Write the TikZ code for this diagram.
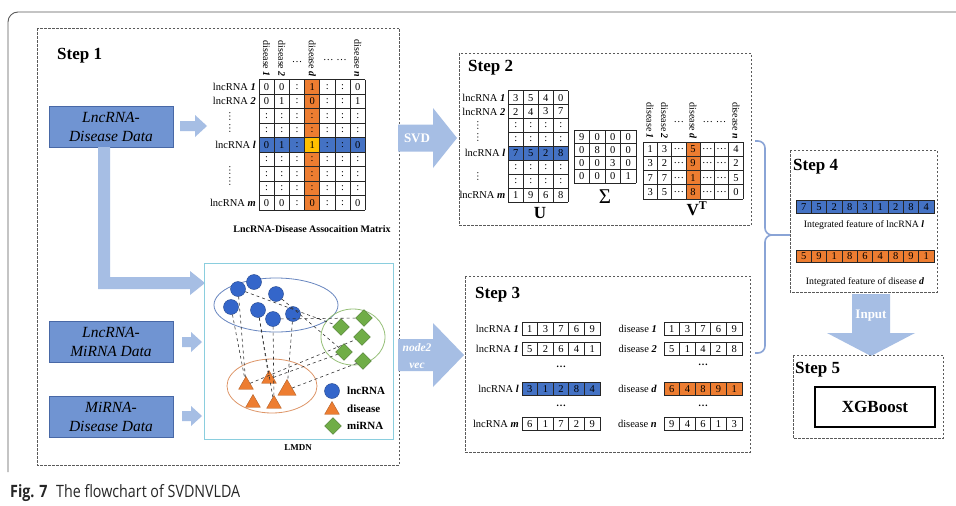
\documentclass[tikz,border=0pt]{standalone}
\usepackage{fontspec}
\setmainfont{Liberation Serif}
\newfontfamily\captionfont[FakeStretch=0.84]{Open Sans}
\usetikzlibrary{shapes.geometric}

\definecolor{databox}{RGB}{112,148,210}
\definecolor{databorder}{RGB}{72,104,166}
\definecolor{flowarrow}{RGB}{166,190,228}
\definecolor{cellblue}{RGB}{68,114,196}
\definecolor{cellorange}{RGB}{237,125,49}
\definecolor{cellyellow}{RGB}{255,192,0}
\definecolor{lmdnframe}{RGB}{138,206,222}
\definecolor{lncring}{RGB}{104,134,192}
\definecolor{miring}{RGB}{150,192,120}
\definecolor{disring}{RGB}{222,150,104}
\definecolor{lncdot}{RGB}{52,102,202}
\definecolor{midot}{RGB}{112,173,71}
\definecolor{disdot}{RGB}{237,125,49}
\definecolor{bracecol}{RGB}{138,164,214}
\definecolor{framegrey}{RGB}{90,90,90}

\newcommand{\fs}[1]{\fontsize{#1}{#1}\selectfont}
\newcommand{\idx}[1]{\textbf{\textit{#1}}}

% grid of cols x rows unit cells in the current scope
\newcommand{\cellgrid}[2]{%
  \foreach \i in {0,...,#1} \draw[gridline] (\i,0) -- (\i,#2);
  \foreach \j in {0,...,#2} \draw[gridline] (0,\j) -- (#1,\j);}
% entries, row by row
\newcommand{\cellvalues}[1]{%
  \foreach \r/\vals in {#1} {
    \foreach \v [count=\c] in \vals
      \node[celltext] at (\c-0.5,\r-0.5) {\v};
  }}
% one strip of boxed numbers: left x, centre y, cell width, fill, values
\newcommand{\vecstrip}[5]{%
  \foreach \v [count=\c] in {#5}
    \node[vcell, fill=#4, minimum width=#3pt] at ({#1+#3*(\c-0.5)}, #2) {\v};}
% horizontal block arrow: x start, x head, x tip, y centre, shaft half height, head half height
\newcommand{\blockarrow}[6]{%
  \fill[flowarrow] (#1,#4-#5) -- (#2,#4-#5) -- (#2,#4-#6) -- (#3,#4)
    -- (#2,#4+#6) -- (#2,#4+#5) -- (#1,#4+#5) -- cycle;}

\tikzset{
  stepframe/.style={draw=framegrey, line width=0.8pt, dash pattern=on 2.5pt off 1.5pt},
  datanode/.style={draw=databorder, line width=0.8pt, fill=databox, minimum width=124pt,
    minimum height=41pt, align=center, font=\fontsize{15.5}{19}\selectfont\itshape, inner sep=0pt},
  gridline/.style={draw=black!85, line width=0.8pt},
  celltext/.style={font=\fs{10.5}, inner sep=0pt},
  vcell/.style={draw=black!85, line width=0.7pt, minimum height=12.5pt, inner sep=0pt,
    outer sep=0pt, font=\fs{10.5}},
  steptitle/.style={anchor=west, font=\fs{17}\bfseries, inner sep=0pt},
  rowlabel/.style={anchor=east, font=\fs{10.5}, inner sep=0pt},
  colhead/.style={rotate=-90, anchor=east, font=\fs{10}, inner sep=0pt},
  vdots/.style={rotate=90, font=\fs{10}, inner sep=0pt},
  lncnode/.style={circle, draw=lncdot!70!black, fill=lncdot, minimum size=15pt, inner sep=0pt},
  minode/.style={diamond, draw=midot!70!black, fill=midot, minimum width=17pt,
    minimum height=17pt, inner sep=0pt},
  disnode/.style={regular polygon, regular polygon sides=3, draw=disdot!75!black,
    fill=disdot, minimum size=17pt, inner sep=0pt},
  netlink/.style={dashed, black!80, line width=0.6pt},
  legendtext/.style={anchor=west, font=\fs{11}\bfseries, inner sep=0pt},
  featuretext/.style={font=\fs{9.8}, inner sep=0pt},
}

\begin{document}
\begin{tikzpicture}[x=1pt,y=-1pt]
\useasboundingbox (0,0) rectangle (956,506);
\fill[white] (0,0) rectangle (956,506);

% outer frame of the figure
\draw[framegrey, line width=0.9pt, rounded corners=10pt] (8,472) -- (8,12) -- (960,12);

%% ---------------- Step 1 ----------------
\draw[stepframe] (37,28) rectangle (399,465);
\node[steptitle] (s1) at (57,56) {Step 1};
\node[datanode] (ld) at (111,126.5) {LncRNA-\\Disease Data};
\node[datanode] (lm) at (111,341.5) {LncRNA-\\MiRNA Data};
\node[datanode] (md) at (111,417) {MiRNA-\\Disease Data};

\blockarrow{180}{195}{207}{126}{5}{11}
\blockarrow{182}{191}{202}{342}{5}{10}
\blockarrow{182}{191}{202}{416}{5}{10}
\fill[flowarrow] (98,147) -- (110,147) -- (110,277) -- (190,277) -- (190,271) -- (205,283)
  -- (190,295) -- (190,289) -- (98,289) -- cycle;

% association matrix
\begin{scope}[shift={(259,79.5)}, x=15.2pt, y=-14.5pt]
  \fill[cellorange] (3,0) rectangle (4,9);
  \fill[cellblue] (0,4) rectangle (7,5);
  \fill[cellyellow] (3,4) rectangle (4,5);
  \cellgrid{7}{9}
  \cellvalues{1/{0,0,:,1,:,:,0}, 2/{0,1,:,0,:,:,1}, 3/{:,:,:,:,:,:,:}, 4/{:,:,:,:,:,:,:},
    5/{0,1,:,1,:,:,0}, 6/{:,:,:,:,:,:,:}, 7/{:,:,:,:,:,:,:}, 8/{:,:,:,:,:,:,:}, 9/{0,0,:,0,:,:,0}}
  \node[colhead] at (0.5,-0.17) {disease \idx{1}};
  \node[colhead] at (1.5,-0.17) {disease \idx{2}};
  \node[celltext] at (2.5,-1.23) {\dots};
  \node[colhead] at (3.5,-0.17) {disease \idx{d}};
  \node[celltext] at (5,-1.34) {\dots\ \dots};
  \node[colhead] at (6.5,-0.17) {disease \idx{n}};
\end{scope}
\node[rowlabel] at (256,86.75) {lncRNA \idx{1}};
\node[rowlabel] at (256,101.25) {lncRNA \idx{2}};
\node[vdots] at (230,122.5) {\dots\,\dots};
\node[rowlabel] at (256,145.25) {lncRNA \idx{l}};
\node[vdots] at (230,176) {\dots\,\dots};
\node[rowlabel] at (256,203.25) {lncRNA \idx{m}};
\node[font=\fs{10}\bfseries] (matcap) at (312,229) {LncRNA-Disease Assocaition Matrix};

% LMDN network
\draw[lmdnframe, line width=1pt] (204,263) rectangle (393,439);
\draw[lncring, line width=0.8pt] (276,305) ellipse [x radius=62pt, y radius=27pt];
\draw[miring, line width=0.8pt] (353,337) ellipse [x radius=32pt, y radius=28pt];
\draw[disring, line width=0.8pt] (272,386) ellipse [x radius=45pt, y radius=27pt];

\node[lncnode] (c1) at (238,289) {};
\node[lncnode] (c2) at (254,282) {};
\node[lncnode] (c3) at (276,294) {};
\node[lncnode] (c4) at (231,307) {};
\node[lncnode] (c5) at (258,310) {};
\node[lncnode] (c6) at (273,319) {};
\node[lncnode] (c7) at (293,314) {};
\node[minode] (d1) at (341,327) {};
\node[minode] (d2) at (364,318) {};
\node[minode] (d3) at (362,337) {};
\node[minode] (d4) at (344,352) {};
\node[minode] (d5) at (363,361) {};
\node[disnode] (t1) at (246,385) {};
\node[disnode] (t2) at (269,379) {};
\node[disnode, minimum size=21pt] (t3) at (287,390) {};
\node[disnode] (t4) at (253,403) {};
\node[disnode] (t5) at (274,404) {};

\foreach \a/\b in {c1/t1, c4/t1, c5/t5, c5/t2, c6/t5, c7/t3, c1/d1, c3/d4, c6/d2, t1/d3, t3/d5, t2/d4}
  \draw[netlink] (\a) -- (\b);

\node[lncnode] (kl) at (332,391) {};
\node[legendtext] at (347,391) {lncRNA};
\node[disnode] (kd) at (332,410) {};
\node[legendtext] at (347,409) {disease};
\node[minode] (km) at (333,426) {};
\node[legendtext] at (347,426) {miRNA};
\node[font=\fs{9}\bfseries] (lmdn) at (298,448) {LMDN};

% SVD and node2vec arrows
\blockarrow{398}{433}{457}{138}{13.5}{30}
\node[font=\fs{13}\bfseries, text=white] (svd) at (417,138) {SVD};
\blockarrow{398}{433}{464}{355}{16}{32}
\node[font=\fontsize{11.5}{17}\selectfont\bfseries\itshape, text=white, align=center] (n2v) at (417,356) {node2\\vec};

%% ---------------- Step 2 ----------------
\draw[stepframe] (459,53) rectangle (751,225);
\node[steptitle] (s2) at (468,68) {Step 2};

\begin{scope}[shift={(508.3,90.7)}, x=15pt, y=-13.9pt]
  \fill[cellblue] (0,4) rectangle (4,5);
  \cellgrid{4}{8}
  \cellvalues{1/{3,5,4,0}, 2/{2,4,3,7}, 3/{:,:,:,:}, 4/{:,:,:,:}, 5/{7,5,2,8},
    6/{:,:,:,:}, 7/{:,:,:,:}, 8/{1,9,6,8}}
\end{scope}
\node[rowlabel] at (505.5,97.65) {lncRNA \idx{1}};
\node[rowlabel] at (505.5,111.55) {lncRNA \idx{2}};
\node[vdots] at (478,131.7) {\dots\,\dots};
\node[rowlabel] at (505.5,153.25) {lncRNA \idx{l}};
\node[vdots] at (478,176.7) {\dots};
\node[rowlabel] at (505.5,194.95) {lncRNA \idx{m}};
\node[font=\fs{17}\bfseries] (U) at (540,213) {U};

\begin{scope}[shift={(574,130)}, x=15.5pt, y=-13.25pt]
  \cellgrid{4}{4}
  \cellvalues{1/{9,0,0,0}, 2/{0,8,0,0}, 3/{0,0,3,0}, 4/{0,0,0,1}}
\end{scope}
\node[font=\fs{21}, inner sep=0pt] (sigma) at (605,197) {Σ};

\begin{scope}[shift={(643,142)}, x=14.3pt, y=-14.25pt]
  \fill[cellorange] (3,0) rectangle (4,4);
  \cellgrid{7}{4}
  \cellvalues{1/{1,3,\dots,5,\dots,\dots,4}, 2/{3,2,\dots,9,\dots,\dots,2},
    3/{7,7,\dots,1,\dots,\dots,5}, 4/{3,5,\dots,8,\dots,\dots,0}}
  \node[colhead] at (0.5,-0.2) {disease \idx{1}};
  \node[colhead] at (1.5,-0.2) {disease \idx{2}};
  \node[celltext] at (2.5,-1.4) {\dots};
  \node[colhead] at (3.5,-0.2) {disease \idx{d}};
  \node[celltext] at (5,-1.4) {\dots\ \dots};
  \node[colhead] at (6.5,-0.2) {disease \idx{n}};
\end{scope}
\node[font=\fs{17}\bfseries] (VT) at (697,209) {V\textsuperscript{T}};

%% ---------------- Step 3 ----------------
\draw[stepframe] (465,276) rectangle (750,452);
\node[steptitle] (s3) at (475,295) {Step 3};

\node[rowlabel] at (519,329) {lncRNA \idx{1}};
\node[rowlabel] at (519,349) {lncRNA \idx{1}};
\node[rowlabel] at (519,389) {lncRNA \idx{l}};
\node[rowlabel] at (519,424) {lncRNA \idx{m}};
\vecstrip{522}{329}{15.6}{white}{1,3,7,6,9}
\vecstrip{522}{349}{15.6}{white}{5,2,6,4,1}
\vecstrip{522}{389}{15.6}{cellblue}{3,1,2,8,4}
\vecstrip{522}{424}{15.6}{white}{6,1,7,2,9}
\node[celltext, font=\fs{10}\bfseries] at (561,367) {\dots};
\node[celltext, font=\fs{10}\bfseries] at (561,406) {\dots};

\node[rowlabel] at (657,329) {disease \idx{1}};
\node[rowlabel] at (657,349) {disease \idx{2}};
\node[rowlabel] at (657,389) {disease \idx{d}};
\node[rowlabel] at (657,424) {disease \idx{n}};
\vecstrip{664}{329}{15.6}{white}{1,3,7,6,9}
\vecstrip{664}{349}{15.6}{white}{5,1,4,2,8}
\vecstrip{664}{389}{15.6}{cellorange}{6,4,8,9,1}
\vecstrip{664}{424}{15.6}{white}{9,4,6,1,3}
\node[celltext, font=\fs{10}\bfseries] at (703,365) {\dots};
\node[celltext, font=\fs{10}\bfseries] at (703,406) {\dots};

% brace joining steps 2 and 3 to step 4
\draw[bracecol, line width=1.6pt, rounded corners=7pt] (755,141) -- (765,141) -- (765,235) -- (790,235);
\draw[bracecol, line width=1.6pt, rounded corners=7pt] (755,353) -- (765,353) -- (765,235) -- (790,235);

%% ---------------- Step 4 ----------------
\draw[stepframe] (790,150) rectangle (937,292);
\node[steptitle] (s4) at (793,167) {Step 4};
\vecstrip{796}{207}{15.33}{cellblue}{7,5,2,8,3,1,2,8,4}
\node[featuretext] (fl) at (864,225) {Integrated feature of lncRNA \idx{l}};
\vecstrip{796}{256.5}{15.33}{cellorange}{5,9,1,8,6,4,8,9,1}
\node[featuretext] (fd) at (865,282) {Integrated feature of disease \idx{d}};

% input arrow
\fill[flowarrow] (852,294) -- (890,294) -- (890,333) -- (915,333) -- (871,356) -- (827,333)
  -- (852,333) -- cycle;
\node[font=\fs{13}\bfseries, text=white] (inp) at (871,316) {Input};

%% ---------------- Step 5 ----------------
\draw[stepframe] (793,355) rectangle (943,438);
\node[steptitle] (s5) at (795,370) {Step 5};
\node[draw=black, line width=1.2pt, minimum width=120pt, minimum height=40pt,
  font=\fs{17}\bfseries] (xgb) at (875,407) {XGBoost};

% caption
\node[anchor=base west, inner sep=0pt, font=\captionfont\fs{17}, text=black!85] (cap) at (10,497)
  {\textbf{Fig. 7}\enspace The flowchart of SVDNVLDA};
\end{tikzpicture}
\end{document}
